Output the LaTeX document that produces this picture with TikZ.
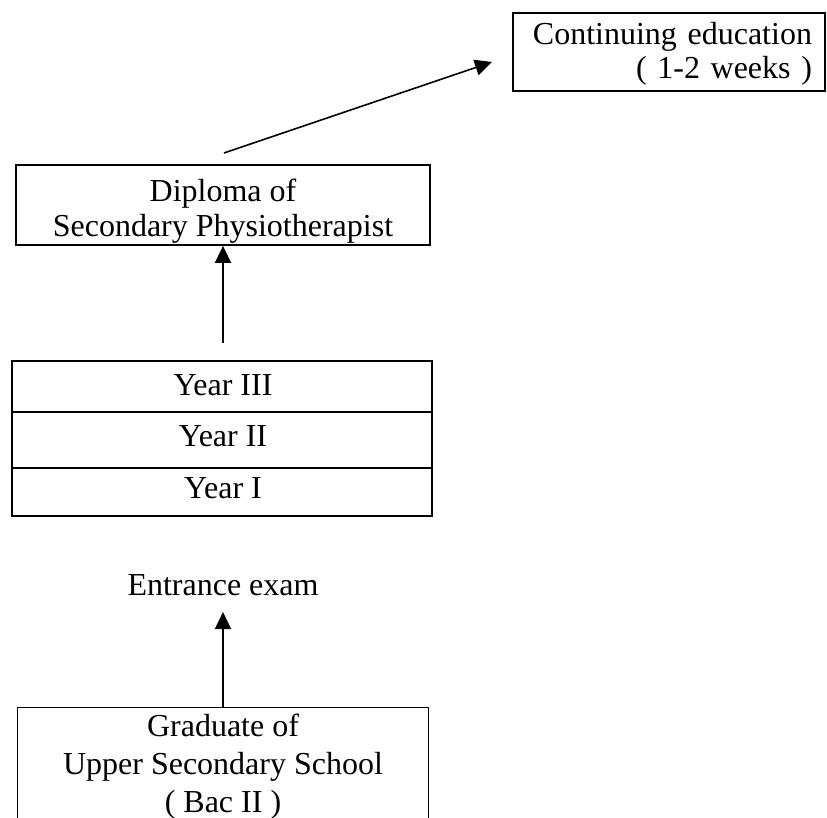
\documentclass[tikz,border=0pt]{standalone}
\usepackage{fontspec}
\setmainfont{Liberation Serif}
\usetikzlibrary{arrows.meta}
\begin{document}
\begin{tikzpicture}[x=0.5pt,y=-0.5pt,
  txt/.style={font=\fontsize{16}{17}\selectfont},
  box/.style={draw,line width=0.9pt,inner sep=0pt,txt,align=center},
  rule/.style={line width=0.8pt},
  arr/.style={line width=0.8pt,-{Triangle[length=8.5pt,width=8pt]}}]
\useasboundingbox (0,0) rectangle (827,818);

% continuing education box (text set flush right)
\node[box,align=right,text width=143pt,inner xsep=6.5pt,minimum height=39pt]
  (cont) at (669,52) {};
\node[txt,align=right,text width=143pt,inner sep=0pt] (conttext) at (669,54)
  {Continuing education\\( 1-2 weeks )};

% diploma box
\node[box,minimum width=207pt,minimum height=40pt] (dip) at (223,205) {};
\node[txt,align=center,inner sep=0pt,font=\fontsize{16}{17.5}\selectfont]
  (diptext) at (223,211) {Diploma of\\Secondary Physiotherapist};

% three study years in one frame
\node[box,minimum width=210pt,minimum height=77.5pt] (year) at (222,438.5) {};
\draw[rule] (year.west |- 0,412) -- (year.east |- 0,412);
\draw[rule] (year.west |- 0,468) -- (year.east |- 0,468);
\node[txt] (y3) at (223,385) {Year III};
\node[txt] (y2) at (223,436) {Year II};
\node[txt] (y1) at (223,488) {Year I};

% entrance exam label
\node[txt,inner xsep=2pt,inner ysep=8pt] (entr) at (223,585) {Entrance exam};

% graduate box, open towards the bottom edge
\node[minimum width=205pt,minimum height=55pt,inner sep=0pt] (grad) at (223,763) {};
\node[txt,align=center,inner sep=0pt,font=\fontsize{16}{19}\selectfont]
  (gradtext) at (223,767) {Graduate of\\Upper Secondary School\\( Bac II )};
\draw[line width=0.9pt] (grad.south west) -- (grad.north west)
  -- (grad.north east) -- (grad.south east);

% connectors
\coordinate (ystart) at (223,343);
\draw[arr] (ystart) -- (dip.south);
\draw[arr] (grad.north) -- (entr.south);
\coordinate (dstart) at (224,153);
\coordinate (dend) at (492,62);
\draw[arr] (dstart) -- (dend);
\end{tikzpicture}
\end{document}
